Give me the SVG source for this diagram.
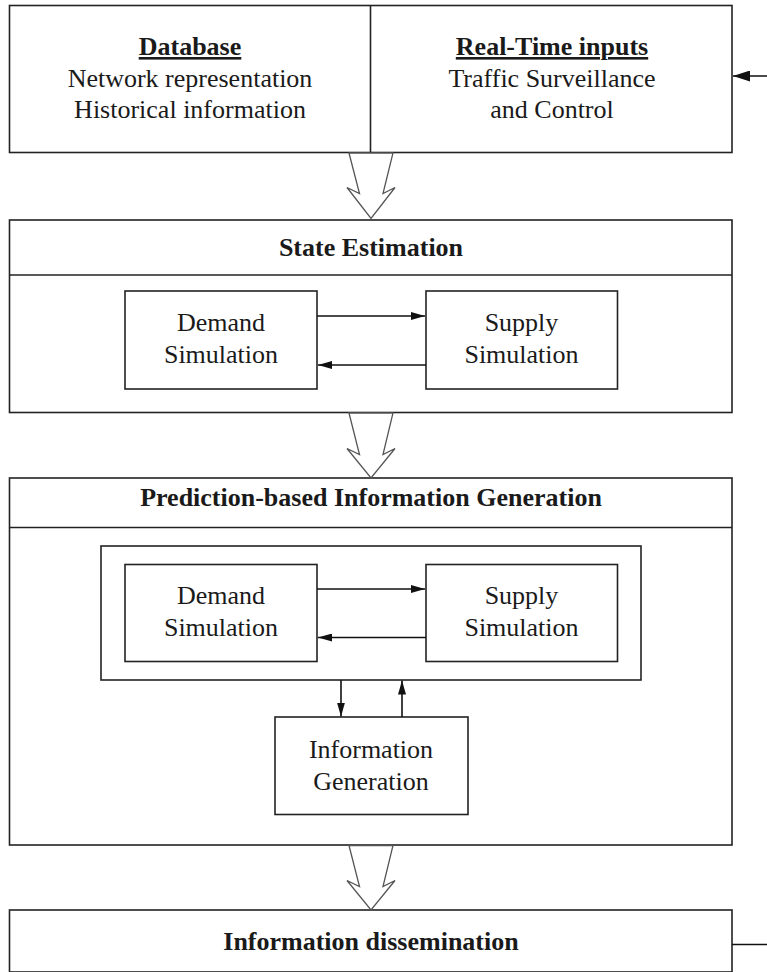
<svg xmlns="http://www.w3.org/2000/svg" width="767" height="972" viewBox="0 0 767 972">
<defs>
<style>
.box{fill:#fff;stroke:#222;stroke-width:1.6}
.ln{fill:none;stroke:#222;stroke-width:1.6}
.t{font-family:"Liberation Serif","Times New Roman",serif;font-size:26px;fill:#1a1a1a;text-anchor:middle}
.b{font-weight:bold}
.u{text-decoration:underline}
.hollow{fill:#fff;stroke:#555;stroke-width:1.3;stroke-linejoin:miter}
.conn{fill:none;stroke:#111;stroke-width:1.6}
</style>
<marker id="ah" viewBox="0 0 14 8" refX="14" refY="4" markerWidth="14" markerHeight="8" markerUnits="userSpaceOnUse" orient="auto">
<path d="M0,0 L14,4 L0,8 Z" fill="#111"/>
</marker>
<marker id="ahBig" viewBox="0 0 17 11" refX="17" refY="5.5" markerWidth="17" markerHeight="11" markerUnits="userSpaceOnUse" orient="auto">
<path d="M0,0 L17,5.5 L0,11 Z" fill="#111"/>
</marker>
</defs>
<rect width="767" height="972" fill="#fff"/>

<g id="inputs">
<rect class="box" x="9.5" y="5.5" width="722.5" height="147"/>
<line class="ln" x1="370.5" y1="5.5" x2="370.5" y2="152.5"/>
<g id="database">
<text class="t b u" x="190" y="55">Database</text>
<text class="t" x="190" y="87">Network representation</text>
<text class="t" x="190" y="118">Historical information</text>
</g>
<g id="realtime">
<text class="t b u" x="552" y="55">Real-Time inputs</text>
<text class="t" x="552" y="87">Traffic Surveillance</text>
<text class="t" x="552" y="118">and Control</text>
</g>
</g>

<g id="state-estimation">
<rect class="box" x="9.5" y="220" width="722.5" height="192.5"/>
<line class="ln" x1="9.5" y1="275" x2="732" y2="275"/>
<text class="t b" x="371" y="256">State Estimation</text>
<g id="se-demand">
<rect class="box" x="125" y="291" width="192" height="98"/>
<text class="t" x="221" y="331">Demand</text>
<text class="t" x="221" y="363">Simulation</text>
</g>
<g id="se-supply">
<rect class="box" x="426" y="291" width="191.5" height="98"/>
<text class="t" x="521.5" y="331">Supply</text>
<text class="t" x="521.5" y="363">Simulation</text>
</g>
</g>

<g id="prediction">
<rect class="box" x="9.5" y="478" width="722.5" height="367"/>
<line class="ln" x1="9.5" y1="527.5" x2="732" y2="527.5"/>
<text class="t b" x="371" y="506">Prediction-based Information Generation</text>
<rect class="box" x="101" y="546" width="540" height="134"/>
<g id="pr-demand">
<rect class="box" x="125" y="564.5" width="192" height="97"/>
<text class="t" x="221" y="604">Demand</text>
<text class="t" x="221" y="636">Simulation</text>
</g>
<g id="pr-supply">
<rect class="box" x="426" y="564.5" width="191.5" height="97"/>
<text class="t" x="521.5" y="604">Supply</text>
<text class="t" x="521.5" y="636">Simulation</text>
</g>
<g id="info-gen">
<rect class="box" x="275" y="717" width="193" height="97.5"/>
<text class="t" x="371" y="758">Information</text>
<text class="t" x="371" y="790">Generation</text>
</g>
</g>

<g id="dissemination">
<rect class="box" x="9.5" y="910" width="722.5" height="62"/>
<text class="t b" x="371" y="950">Information dissemination</text>
</g>

<g id="connectors">
<polygon class="hollow" points="349,153 359.5,193.5 347,187.5 371,218.5 395,187.5 383,193.5 393,153"/>
<polygon class="hollow" points="349,413 359.5,454.5 347,448.5 371,478 395,448.5 383,454.5 393,413"/>
<polygon class="hollow" points="349,845.5 359.5,886.5 347,880.5 371,910 395,880.5 383,886.5 393,845.5"/>
<line class="conn" x1="317" y1="316" x2="425" y2="316" marker-end="url(#ah)"/>
<line class="conn" x1="426" y1="365" x2="318" y2="365" marker-end="url(#ah)"/>
<line class="conn" x1="317" y1="589" x2="425" y2="589" marker-end="url(#ah)"/>
<line class="conn" x1="426" y1="637.5" x2="318" y2="637.5" marker-end="url(#ah)"/>
<line class="conn" x1="341" y1="680" x2="341" y2="716.5" marker-end="url(#ah)"/>
<line class="conn" x1="402" y1="717" x2="402" y2="680.5" marker-end="url(#ah)"/>
<line class="conn" x1="767" y1="76" x2="733" y2="76" marker-end="url(#ahBig)"/>
<line class="conn" x1="732" y1="944.5" x2="767" y2="944.5"/>
</g>
</svg>
